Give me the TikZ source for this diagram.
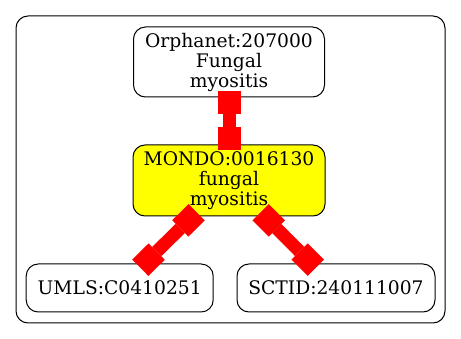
\documentclass[tikz,border=0pt]{standalone}
\usepackage{fontspec}
\setmainfont{DejaVu Serif}
\usetikzlibrary{arrows.meta}
\definecolor{mondofill}{RGB}{255,255,0}
\definecolor{linkred}{RGB}{255,0,0}

\begin{document}
\begin{tikzpicture}[x=1pt, y=-1pt,
    Box/.tip={Rectangle[length=23pt, width=23pt, line width=0pt]},
    term/.style={draw, line width=1pt, rounded corners=12pt, inner sep=0pt,
      align=center, font=\fontsize{18.7}{20}\selectfont},
    link/.style={draw=linkred, line width=13pt, Box-Box,
      shorten <=-6pt, shorten >=-6pt}]
  \useasboundingbox (0,0) rectangle (461,339);

  % cluster frame
  \draw[line width=1pt, rounded corners=12pt] (16,16) rectangle (445,323);

  \node[term, minimum width=191pt, minimum height=70pt] (orpha) at (229,62)
    {Orphanet:207000\\Fungal\\myositis};
  \node[term, fill=mondofill, minimum width=192pt, minimum height=71pt] (mondo) at (229,180.5)
    {MONDO:0016130\\fungal\\myositis};
  \node[term, minimum width=187pt, minimum height=48pt] (umls) at (119.7,288) {UMLS:C0410251};
  \node[term, minimum width=198pt, minimum height=48pt] (sctid) at (336,288) {SCTID:240111007};

  \foreach \t in {orpha, umls, sctid}{
    \draw[link] (mondo) -- (\t);
  }
\end{tikzpicture}
\end{document}
